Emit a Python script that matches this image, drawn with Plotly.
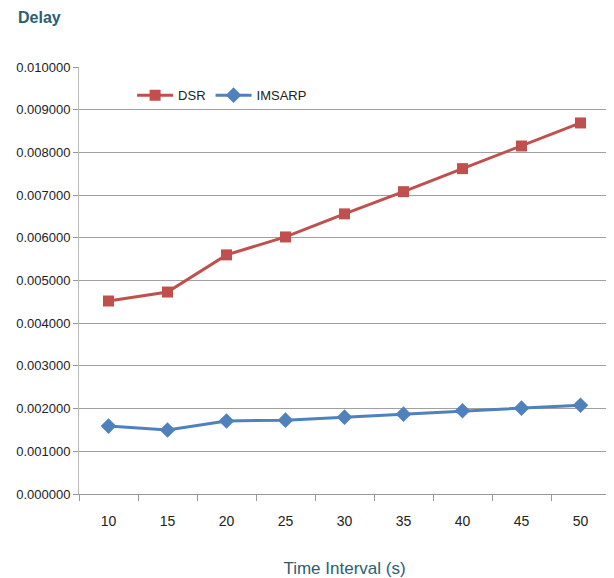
import plotly.graph_objects as go

categories = ["10", "15", "20", "25", "30", "35", "40", "45", "50"]
dsr = [0.00452, 0.00473, 0.00560, 0.00602, 0.00656, 0.00708, 0.00762, 0.00815, 0.00869]
imsarp = [0.00159, 0.00150, 0.00171, 0.00173, 0.00180, 0.00187, 0.00195, 0.00201, 0.00208]
y_ticks = [0.000, 0.001, 0.002, 0.003, 0.004, 0.005, 0.006, 0.007, 0.008, 0.009, 0.010]

font = "Liberation Sans Narrow, Arial Narrow, Liberation Sans, sans-serif"
teal = "#2a6070"

fig = go.Figure()
fig.add_trace(go.Scatter(x=categories, y=dsr, name="DSR", mode="lines+markers",
                         line=dict(color="#c0504d", width=3),
                         marker=dict(symbol="square", size=11, color="#c0504d")))
fig.add_trace(go.Scatter(x=categories, y=imsarp, name="IMSARP", mode="lines+markers",
                         line=dict(color="#4f81bd", width=3),
                         marker=dict(symbol="diamond", size=12, color="#4f81bd")))

fig.update_layout(
    width=606, height=570,
    margin=dict(l=71, r=4, t=59, b=84, autoexpand=False),
    paper_bgcolor="white", plot_bgcolor="white",
    font=dict(family=font, size=13, color="#222"),
    showlegend=True,
    legend=dict(orientation="h", x=0.1, y=0.934, xanchor="left", yanchor="middle",
                font=dict(size=13, color="#222"), bgcolor="rgba(0,0,0,0)",
                itemwidth=36),
    xaxis=dict(type="category", tickson="boundaries", ticks="outside", ticklen=6,
               tickcolor="#999", showgrid=False, showline=True, linecolor="#999",
               tickfont=dict(size=14), range=[-0.5, 8.5], ticklabelstandoff=14,
               title=dict(text="Time Interval (s)", font=dict(size=17, color=teal), standoff=37)),
    yaxis=dict(range=[0, 0.010], tickvals=y_ticks,
               ticktext=[f"{v:.6f}" for v in y_ticks],
               showgrid=True, gridcolor="#a0a0a0", gridwidth=1,
               showline=True, linecolor="#bbb", ticks="outside", ticklen=5, tickcolor="#999",
               tickfont=dict(size=13), zeroline=False),
)
fig.layout.annotations = [dict(text="<b>Delay</b>", x=-0.1186, y=1.1148, xref="paper", yref="paper",
                               xanchor="left", yanchor="middle", showarrow=False,
                               font=dict(size=16, color=teal, family=font))]

fig.write_html("out.html")
